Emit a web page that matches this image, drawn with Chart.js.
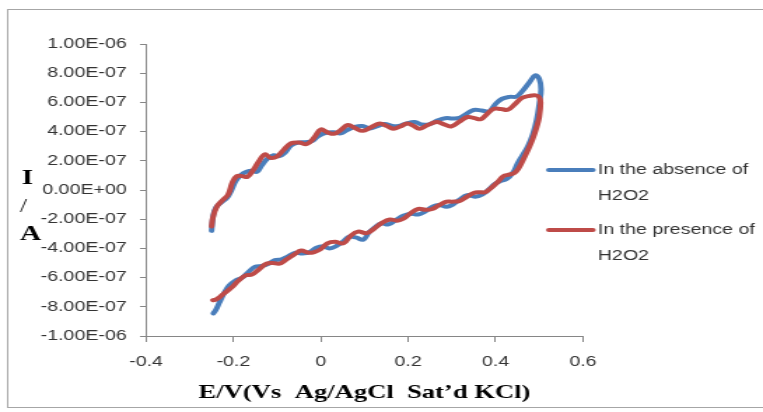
<!DOCTYPE html>
<html>
<head>
<meta charset="utf-8">
<script src="https://cdn.jsdelivr.net/npm/chart.js@4.4.1/dist/chart.umd.min.js"></script>
<style>
  html, body { margin: 0; padding: 0; background: #ffffff; overflow: hidden; }
  /* the figure is laid out at 545px wide and stretched to the 763px page width */
  #stage { width: 545px; height: 412px; transform: scaleX(1.4); transform-origin: 0 0; }
</style>
</head>
<body>
<div id="stage"><canvas id="cv"></canvas></div>
<script>
// Cyclic voltammograms: potential E (V) against current I (A)
const legendLines = [['In the absence of', 'H2O2'], ['In the presence of', 'H2O2']];
const seriesColors = ['#4a7ebb', '#be4b48'];

const xTickValues = [-0.4, -0.2, 0, 0.2, 0.4, 0.6];
const xTickLabels = ['-0.4', '-0.2', '0', '0.2', '0.4', '0.6'];
const yTickValues = [-1e-6, -8e-7, -6e-7, -4e-7, -2e-7, 0, 2e-7, 4e-7, 6e-7, 8e-7, 1e-6];
const yTickLabels = ['-1.00E-06', '-8.00E-07', '-6.00E-07', '-4.00E-07', '-2.00E-07', '0.00E+00',
                     '2.00E-07', '4.00E-07', '6.00E-07', '8.00E-07', '1.00E-06'];

// absence of H2O2: anodic sweep, turn at +0.5 V, cathodic sweep
const absenceE = [
  -0.250, -0.246, -0.240, -0.228, -0.215, -0.205, -0.195, -0.182, -0.170, -0.158,
  -0.146, -0.135, -0.122, -0.108, -0.095, -0.082, -0.068, -0.052, -0.035, -0.020,
  -0.005, 0.012, 0.030, 0.046, 0.060, 0.078, 0.095, 0.112, 0.128, 0.146,
  0.162, 0.178, 0.195, 0.215, 0.232, 0.250, 0.268, 0.285, 0.302, 0.318,
  0.335, 0.350, 0.368, 0.385, 0.400, 0.415, 0.432, 0.448, 0.462, 0.478,
  0.491, 0.500, 0.504, 0.500, 0.494, 0.485, 0.474, 0.462, 0.450, 0.440,
  0.425, 0.410, 0.398, 0.385, 0.370, 0.353, 0.335, 0.318, 0.302, 0.288,
  0.270, 0.255, 0.240, 0.223, 0.205, 0.190, 0.172, 0.155, 0.138, 0.122,
  0.110, 0.097, 0.080, 0.065, 0.052, 0.035, 0.020, 0.005, -0.010, -0.025,
  -0.042, -0.058, -0.075, -0.090, -0.105, -0.120, -0.135, -0.150, -0.165, -0.180,
  -0.195, -0.210, -0.222, -0.232, -0.240, -0.246
];
const absenceI = [
  -2.80e-7, -1.70e-7, -1.20e-7, -0.85e-7, -0.55e-7, -0.05e-7, 0.60e-7, 1.05e-7, 1.25e-7, 1.32e-7,
  1.25e-7, 1.70e-7, 2.15e-7, 2.38e-7, 2.32e-7, 2.55e-7, 3.05e-7, 3.25e-7, 3.28e-7, 3.35e-7,
  3.70e-7, 3.92e-7, 3.95e-7, 3.88e-7, 4.10e-7, 4.32e-7, 4.38e-7, 4.22e-7, 4.35e-7, 4.52e-7,
  4.40e-7, 4.38e-7, 4.55e-7, 4.65e-7, 4.48e-7, 4.52e-7, 4.78e-7, 4.92e-7, 4.90e-7, 4.95e-7,
  5.25e-7, 5.48e-7, 5.45e-7, 5.38e-7, 5.90e-7, 6.25e-7, 6.38e-7, 6.40e-7, 6.80e-7, 7.40e-7,
  7.85e-7, 7.60e-7, 6.90e-7, 5.90e-7, 4.80e-7, 3.80e-7, 3.00e-7, 2.40e-7, 1.80e-7, 1.20e-7,
  0.75e-7, 0.60e-7, 0.40e-7, 0.05e-7, -0.30e-7, -0.46e-7, -0.35e-7, -0.65e-7, -1.00e-7, -1.15e-7,
  -1.02e-7, -1.15e-7, -1.45e-7, -1.68e-7, -1.62e-7, -1.75e-7, -2.05e-7, -2.36e-7, -2.28e-7, -2.60e-7,
  -2.90e-7, -3.40e-7, -3.25e-7, -3.20e-7, -3.50e-7, -3.85e-7, -4.00e-7, -3.85e-7, -3.95e-7, -4.25e-7,
  -4.35e-7, -4.30e-7, -4.55e-7, -4.75e-7, -4.80e-7, -5.05e-7, -5.20e-7, -5.25e-7, -5.60e-7, -6.00e-7,
  -6.20e-7, -6.55e-7, -7.10e-7, -7.70e-7, -8.20e-7, -8.45e-7
];

// presence of H2O2
const presenceE = [
  -0.250, -0.247, -0.238, -0.225, -0.212, -0.202, -0.192, -0.180, -0.168, -0.155,
  -0.142, -0.128, -0.115, -0.100, -0.085, -0.068, -0.050, -0.032, -0.015, 0.000,
  0.015, 0.030, 0.045, 0.062, 0.078, 0.096, 0.115, 0.135, 0.150, 0.166,
  0.182, 0.198, 0.212, 0.226, 0.245, 0.265, 0.282, 0.298, 0.318, 0.336,
  0.352, 0.366, 0.382, 0.395, 0.412, 0.428, 0.445, 0.460, 0.478, 0.492,
  0.500, 0.503, 0.500, 0.494, 0.485, 0.475, 0.462, 0.452, 0.442, 0.430,
  0.418, 0.405, 0.390, 0.376, 0.362, 0.350, 0.335, 0.318, 0.300, 0.288,
  0.270, 0.255, 0.240, 0.223, 0.205, 0.190, 0.175, 0.158, 0.140, 0.122,
  0.105, 0.085, 0.068, 0.052, 0.032, 0.015, 0.000, -0.015, -0.028, -0.045,
  -0.060, -0.078, -0.095, -0.110, -0.125, -0.140, -0.158, -0.172, -0.188, -0.205,
  -0.220, -0.232, -0.240, -0.247
];
const presenceI = [
  -2.50e-7, -1.90e-7, -1.15e-7, -0.70e-7, -0.30e-7, 0.55e-7, 0.95e-7, 0.95e-7, 0.90e-7, 1.35e-7,
  1.95e-7, 2.45e-7, 2.20e-7, 2.30e-7, 2.75e-7, 3.20e-7, 3.25e-7, 3.15e-7, 3.60e-7, 4.15e-7,
  3.95e-7, 3.85e-7, 4.10e-7, 4.45e-7, 4.25e-7, 4.05e-7, 4.30e-7, 4.55e-7, 4.40e-7, 4.20e-7,
  4.35e-7, 4.55e-7, 4.40e-7, 4.20e-7, 4.45e-7, 4.65e-7, 4.50e-7, 4.35e-7, 4.70e-7, 5.00e-7,
  4.92e-7, 4.85e-7, 5.25e-7, 5.55e-7, 5.55e-7, 5.50e-7, 5.90e-7, 6.30e-7, 6.45e-7, 6.48e-7,
  6.35e-7, 6.00e-7, 5.00e-7, 4.30e-7, 3.50e-7, 2.80e-7, 2.00e-7, 1.45e-7, 1.15e-7, 1.05e-7,
  0.95e-7, 0.55e-7, 0.15e-7, -0.15e-7, -0.15e-7, -0.20e-7, -0.45e-7, -0.75e-7, -0.80e-7, -0.80e-7,
  -1.05e-7, -1.30e-7, -1.35e-7, -1.30e-7, -1.60e-7, -1.95e-7, -2.10e-7, -2.02e-7, -2.25e-7, -2.65e-7,
  -2.95e-7, -2.85e-7, -3.15e-7, -3.65e-7, -3.55e-7, -3.65e-7, -4.05e-7, -4.25e-7, -4.30e-7, -4.15e-7,
  -4.40e-7, -4.75e-7, -5.05e-7, -5.00e-7, -5.05e-7, -5.40e-7, -5.80e-7, -5.85e-7, -6.20e-7, -6.70e-7,
  -7.05e-7, -7.35e-7, -7.50e-7, -7.55e-7
];

const toPoints = (xs, ys) => xs.map((x, i) => ({ x: x, y: ys[i] }));

const AXIS_GREY = '#868686';
const TEXT_GREY = '#333333';

// light frame around the whole figure
const framePlugin = {
  id: 'frame',
  beforeDraw(chart) {
    const c = chart.ctx;
    c.save();
    c.strokeStyle = '#a6a6a6';
    c.lineWidth = 1;
    c.strokeRect(5.5, 9.5, 560, 398);
    c.restore();
  }
};

// stacked "I / A" quantity label beside the current axis
const currentLabelPlugin = {
  id: 'currentLabel',
  afterDraw(chart) {
    const c = chart.ctx;
    c.save();
    c.fillStyle = '#000000';
    c.textAlign = 'center';
    c.textBaseline = 'middle';
    c.font = 'bold 21px "Liberation Serif"';
    c.fillText('I', 19.5, 179);
    c.fillText('A', 21.9, 235);
    c.font = '18px "Liberation Serif"';
    c.fillText('/', 16.7, 207);
    c.restore();
  }
};

// two-line legend entries at the right of the plot
const sideLegendPlugin = {
  id: 'sideLegend',
  afterDraw(chart) {
    const c = chart.ctx;
    const x0 = 392, x1 = 423.5, tx = 427;
    const rowTop = [170, 230];
    const lineGap = 26;
    c.save();
    chart.data.datasets.forEach((ds, i) => {
      const y = rowTop[i];
      c.strokeStyle = ds.borderColor;
      c.lineWidth = 4;
      c.lineCap = 'round';
      c.beginPath();
      c.moveTo(x0, y);
      c.lineTo(x1, y);
      c.stroke();
      c.fillStyle = TEXT_GREY;
      c.font = '14px "Liberation Sans"';
      c.textAlign = 'left';
      c.textBaseline = 'middle';
      legendLines[i].forEach((t, k) => c.fillText(t, tx, y + k * lineGap));
    });
    c.restore();
  }
};

new Chart(document.getElementById('cv'), {
  type: 'scatter',
  data: {
    datasets: [
      {
        label: legendLines[0].join(' '),
        data: toPoints(absenceE, absenceI),
        borderColor: seriesColors[0],
        backgroundColor: seriesColors[0],
        order: 1
      },
      {
        label: legendLines[1].join(' '),
        data: toPoints(presenceE, presenceI),
        borderColor: seriesColors[1],
        backgroundColor: seriesColors[1],
        order: 0
      }
    ]
  },
  options: {
    responsive: true,
    maintainAspectRatio: false,
    animation: false,
    showLine: true,
    elements: {
      point: { radius: 0, hoverRadius: 0 },
      line: { borderWidth: 4, tension: 0.4, borderCapStyle: 'round', borderJoinStyle: 'round' }
    },
    layout: { padding: { left: 20.3, right: 128.6, top: 44, bottom: 0 } },
    plugins: {
      legend: { display: false },
      tooltip: { enabled: false }
    },
    scales: {
      x: {
        type: 'linear',
        min: -0.4,
        max: 0.6,
        afterBuildTicks: (s) => { s.ticks = xTickValues.map(v => ({ value: v })); },
        afterFit: (s) => { s.height = 76; },
        grid: { drawOnChartArea: false, drawTicks: true, tickLength: 6, tickColor: AXIS_GREY },
        border: { color: AXIS_GREY, width: 1 },
        ticks: {
          padding: 12,
          color: TEXT_GREY,
          font: { family: '"Liberation Sans"', size: 14 },
          maxRotation: 0,
          callback: (v, i) => xTickLabels[i]
        },
        title: {
          display: true,
          text: 'E/V(Vs  Ag/AgCl  Sat\u2019d KCl)',
          color: '#000000',
          font: { family: '"Liberation Serif"', size: 19, weight: 'bold' },
          padding: { top: 0, bottom: 8 }
        }
      },
      y: {
        type: 'linear',
        min: -1e-6,
        max: 1e-6,
        afterBuildTicks: (s) => { s.ticks = yTickValues.map(v => ({ value: v })); },
        afterFit: (s) => { s.width = 84; },
        grid: { drawOnChartArea: false, drawTicks: true, tickLength: 4.3, tickColor: AXIS_GREY },
        border: { color: AXIS_GREY, width: 1 },
        ticks: {
          padding: 9.5,
          color: TEXT_GREY,
          font: { family: '"Liberation Sans"', size: 14 },
          callback: (v, i) => yTickLabels[i]
        }
      }
    }
  },
  plugins: [framePlugin, currentLabelPlugin, sideLegendPlugin]
});
</script>
</body>
</html>
